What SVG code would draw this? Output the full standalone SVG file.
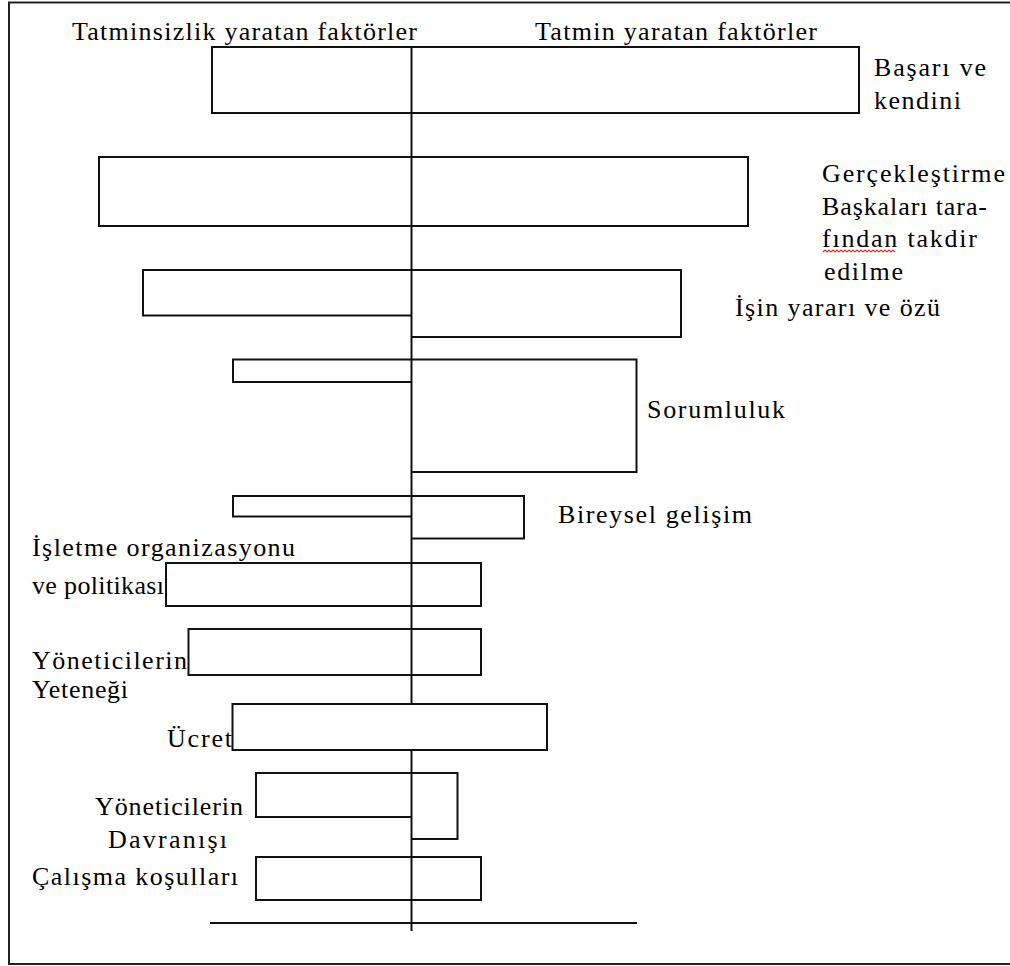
<svg xmlns="http://www.w3.org/2000/svg" width="1010" height="966" viewBox="0 0 1010 966">
<style>
  .frame{fill:none;stroke:#222;stroke-width:2}
  .box{fill:none;stroke:#111;stroke-width:2}
  .boxw{fill:#fff;stroke:#111;stroke-width:2}
  .ln{fill:none;stroke:#111;stroke-width:2}
  .sq{fill:none;stroke:#e03030;stroke-width:1.2}
  text{font-family:"Liberation Serif","Times New Roman",Tinos,"Noto Serif","DejaVu Serif",serif;font-size:26px;fill:#000}
</style>
<rect x="0" y="0" width="1010" height="966" fill="#fff"/>
<path class="frame" d="M1012 2.5 H9 V964 H1012"/>
<g id="headers">
  <text x="72" y="40" textLength="345">Tatminsizlik yaratan faktörler</text>
  <text x="535" y="40" textLength="282">Tatmin yaratan faktörler</text>
</g>
<g id="connectors">
  <line class="ln" x1="411.5" y1="46" x2="411.5" y2="931"/>
  <line class="ln" x1="210" y1="923" x2="637" y2="923"/>
</g>
<g id="basari">
  <rect class="box" x="212" y="47" width="647" height="66"/>
  <text x="874" y="76" textLength="112">Başarı ve</text>
  <text x="874" y="109" textLength="87">kendini</text>
</g>
<g id="takdir">
  <rect class="box" x="99" y="157" width="649" height="69"/>
  <text x="822" y="182" textLength="183">Gerçekleştirme</text>
  <text x="822" y="214.5" textLength="165">Başkaları tara-</text>
  <text x="822" y="247" textLength="155">fından takdir</text>
  <path class="sq" d="M823 252 l2 -2 l2 2 l2 -2 l2 2 l2 -2 l2 2 l2 -2 l2 2 l2 -2 l2 2 l2 -2 l2 2 l2 -2 l2 2 l2 -2 l2 2 l2 -2 l2 2 l2 -2 l2 2 l2 -2 l2 2 l2 -2 l2 2 l2 -2 l2 2 l2 -2 l2 2 l2 -2 l2 2 l2 -2 l2 2 l2 -2 l2 2 l2 -2 l2 2"/>
  <text x="824" y="279.5" textLength="79">edilme</text>
</g>
<g id="isin">
  <path class="box" d="M411.5 270 H143 V315.5 H411.5 M411.5 270 H681 V337 H411.5"/>
  <text x="735" y="316" textLength="205">İşin yararı ve özü</text>
</g>
<g id="sorumluluk">
  <path class="box" d="M411.5 359.5 H233 V382 H411.5 M411.5 359.5 H636.5 V472 H411.5"/>
  <text x="647" y="418" textLength="138">Sorumluluk</text>
</g>
<g id="bireysel">
  <path class="box" d="M411.5 496 H233 V516.5 H411.5 M411.5 496 H524 V538.5 H411.5"/>
  <text x="558" y="523" textLength="194">Bireysel gelişim</text>
</g>
<g id="isletme">
  <rect class="box" x="166" y="563" width="315" height="43"/>
  <text x="32" y="555.5" textLength="263">İşletme organizasyonu</text>
  <text x="32" y="594" textLength="132">ve politikası</text>
</g>
<g id="yetenek">
  <rect class="box" x="188.5" y="629" width="292.5" height="46"/>
  <text x="32" y="669" textLength="155">Yöneticilerin</text>
  <text x="32" y="697.5" textLength="96">Yeteneği</text>
</g>
<g id="ucret">
  <rect class="boxw" x="232.5" y="704" width="314.5" height="46"/>
  <text x="167" y="746.5" textLength="65">Ücret</text>
</g>
<g id="davranis">
  <path class="box" d="M411.5 773 H256 V817 H411.5 M411.5 773 H457.5 V839 H411.5"/>
  <text x="95" y="815" textLength="148">Yöneticilerin</text>
  <text x="108" y="848" textLength="119">Davranışı</text>
</g>
<g id="calisma">
  <rect class="box" x="256" y="857" width="225" height="43"/>
  <text x="32" y="885" textLength="206">Çalışma koşulları</text>
</g>
</svg>
